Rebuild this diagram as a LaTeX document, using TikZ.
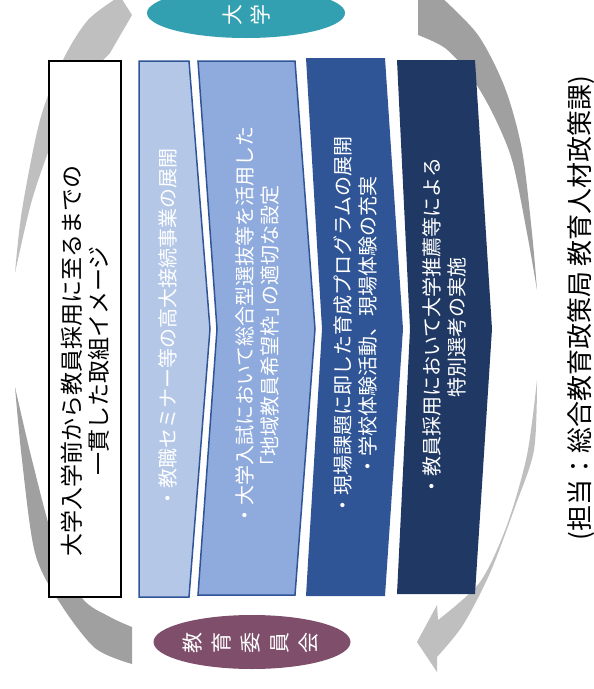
\documentclass[tikz,border=0pt]{standalone}
\usepackage{fontspec}
\setmainfont{Noto Sans CJK JP}
\usetikzlibrary{shapes.geometric}
\definecolor{cA}{HTML}{B4C7E7}
\definecolor{cB}{HTML}{8FAADC}
\definecolor{cC}{HTML}{2F5597}
\definecolor{cD}{HTML}{203864}
\definecolor{teal1}{HTML}{33A0B2}
\definecolor{plum1}{HTML}{7E4E6A}
\definecolor{gl}{HTML}{BFBFBF}
\definecolor{gd}{HTML}{A0A0A0}
\newcommand{\hw}[1]{{\addfontfeature{RawFeature=+halt}#1}}
\tikzset{
  chev/.style={line width=1.5pt, line join=miter},
  vtext/.style={rotate=90, align=center, inner sep=0pt},
  wtext/.style={vtext, text=white, font=\fontsize{20}{25}\selectfont},
  echar/.style={rotate=90, inner sep=0pt, text=white, font=\fontsize{21}{21}\selectfont},
}
\begin{document}
\begin{tikzpicture}[x=1pt, y=-1pt]
\useasboundingbox (0,0) rectangle (594,689);
% gray cycle arrows
\fill[gl] plot[smooth] coordinates {(15,273) (22,210) (40,120) (63,60) (88,20) (120,-4)}
  -- (132,15) -- (110,53)
  -- plot[smooth] coordinates {(110,53) (82,85) (55,135) (32,200) (15,273)} -- cycle;
\fill[gd] plot[smooth] coordinates {(15,387) (22,460) (35,553) (60,603) (95,648) (132,664)}
  -- (132,627)
  -- plot[smooth] coordinates {(132,627) (110,617) (82,598) (55,545) (32,460) (15,387)} -- cycle;
\fill[gd] (418,-4) -- plot[smooth] coordinates {(440,-4) (478,35) (505,88) (522,150) (532,233) (537,290)}
  -- plot[smooth] coordinates {(537,290) (527,233) (512,160) (492,112) (470,75) (445,48) (418,35)} -- cycle;
\fill[gl] plot[smooth] coordinates {(537,380) (534,450) (515,507) (490,573) (463,625) (437,657)}
  -- (437,672) -- (417,642) -- (437,605) -- (438,620)
  -- plot[smooth] coordinates {(438,620) (480,582) (507,525) (527,455) (537,380)} -- cycle;
% title box
\draw[line width=2pt, fill=white] (49,61) rectangle (121,597);
\node[vtext, font=\fontsize{23}{27}\selectfont] (title) at (85,361)
  {大学入学前から教員採用に至るまでの\\一貫した取組イメージ};
% chevrons
\filldraw[chev, fill=cA, draw=cC] (139,61) -- (189,61) -- (210,329) -- (189,597) -- (139,597) -- cycle;
\filldraw[chev, fill=cB, draw=cC] (198,61) -- (295,61) -- (315,329) -- (295,595) -- (198,595) -- (217,329) -- cycle;
\fill[cC] (306,58) -- (385,58) -- (403,329) -- (385,596) -- (306,596) -- (322,329) -- cycle;
\fill[cD] (397,60) -- (475,60) -- (492,329) -- (475,594) -- (397,594) -- (410,329) -- cycle;
\node[wtext] (t1) at (168,328) {・教職セミナー等の高大接続事業の展開};
\node[wtext] (t2) at (257,326) {・大学入試において総合型選抜等を活用した\\\hw{「}地域教員希望枠\hw{」}の適切な設定};
\node[wtext] (t3) at (355,326) {・現場課題に即した育成プログラムの展開\\・学校体験活動、現場体験の充実};
\node[wtext] (t4) at (444,327) {・教員採用において大学推薦等による\\特別選考の実施};
% ellipses
\node[ellipse, fill=teal1, minimum width=198pt, minimum height=50pt, inner sep=0pt] (univ) at (246,13) {};
\node[echar] (u1) at (233,15) {大};
\node[echar] (u2) at (260,15) {学};
\node[ellipse, fill=plum1, minimum width=197pt, minimum height=54pt, inner sep=0pt] (board) at (252,642) {};
\node[echar] (b1) at (193,643) {教};
\node[echar] (b2) at (222,643) {育};
\node[echar] (b3) at (251,643) {委};
\node[echar] (b4) at (280,643) {員};
\node[echar] (b5) at (309,643) {会};
% credit
\node[vtext, font=\fontsize{26}{28}\selectfont] (credit) at (581,308) {(担当：総合教育政策局 教育人材政策課)};
\end{tikzpicture}
\end{document}
